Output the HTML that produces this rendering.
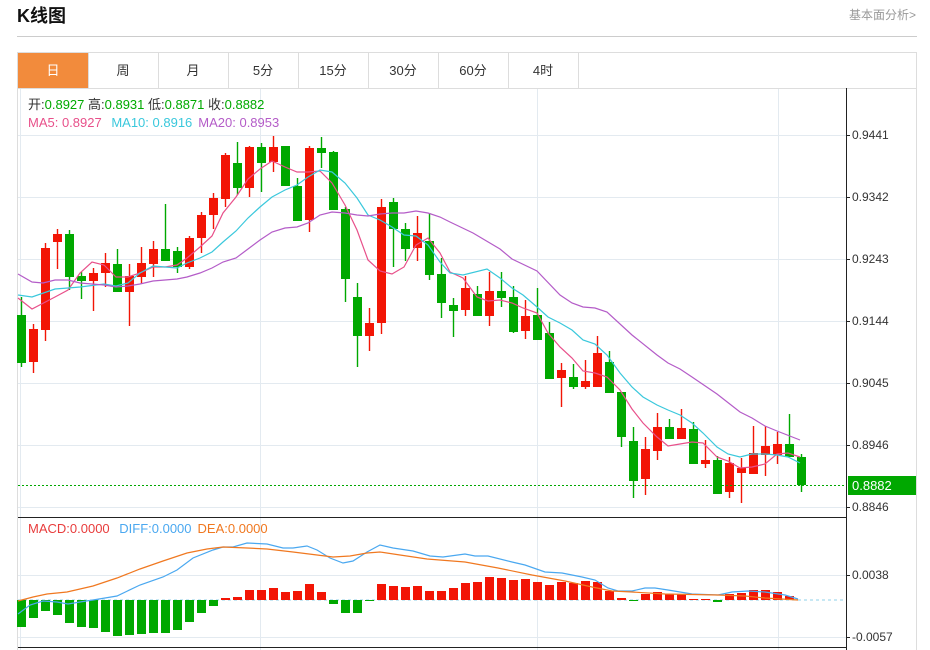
<!DOCTYPE html>
<html><head><meta charset="utf-8"><style>
body{margin:0;background:#fff;width:930px;height:650px;overflow:hidden;font-family:"Liberation Sans","Noto Sans CJK SC",sans-serif}
svg{position:absolute;left:0;top:0}
</style></head><body>
<svg id="s" width="930" height="650" xmlns="http://www.w3.org/2000/svg" font-family="Liberation Sans, Noto Sans CJK SC, sans-serif">
<text x="17" y="22" font-size="18" font-weight="bold" fill="#111">K线图</text>
<text x="916" y="19" font-size="12" fill="#999" text-anchor="end">基本面分析&gt;</text>
<line x1="17" y1="36.5" x2="917" y2="36.5" stroke="#ccc"/>
<rect x="17.5" y="52.5" width="899" height="600" fill="none" stroke="#ddd"/>
<line x1="18" y1="88.5" x2="917" y2="88.5" stroke="#ddd"/>
<rect x="18" y="53" width="70" height="35" fill="#f28b3c"/>
<g font-size="13" fill="#333" text-anchor="middle">
<text x="53" y="75" fill="#fff">日</text>
<text x="123" y="75">周</text><text x="193" y="75">月</text><text x="263" y="75">5分</text>
<text x="333" y="75">15分</text><text x="403" y="75">30分</text><text x="473" y="75">60分</text><text x="543" y="75">4时</text>
</g>
<g stroke="#ddd"><line x1="88.5" y1="53" x2="88.5" y2="88"/><line x1="158.5" y1="53" x2="158.5" y2="88"/><line x1="228.5" y1="53" x2="228.5" y2="88"/><line x1="298.5" y1="53" x2="298.5" y2="88"/><line x1="368.5" y1="53" x2="368.5" y2="88"/><line x1="438.5" y1="53" x2="438.5" y2="88"/><line x1="508.5" y1="53" x2="508.5" y2="88"/><line x1="578.5" y1="53" x2="578.5" y2="88"/></g>
<g id="grid" stroke="#e3eaf0"></g>
<g id="main"></g>
<line x1="18" y1="517.5" x2="846" y2="517.5" stroke="#222"/>
<line x1="18" y1="647.5" x2="846" y2="647.5" stroke="#222"/>
<line x1="846.5" y1="88" x2="846.5" y2="650" stroke="#222"/>
<g font-size="13">
<text x="28" y="109" fill="#333">开:<tspan fill="#0a0">0.8927</tspan>  高:<tspan fill="#0a0">0.8931</tspan>  低:<tspan fill="#0a0">0.8871</tspan>  收:<tspan fill="#0a0">0.8882</tspan></text>
<text x="28" y="127" fill="#e8508a">MA5: 0.8927 <tspan fill="#3ac8dc" dx="6">MA10: 0.8916</tspan><tspan fill="#b45cc8" dx="6">MA20: 0.8953</tspan></text>
<text x="28" y="533" fill="#e83c3c">MACD:0.0000 <tspan fill="#4aa8f0" dx="6">DIFF:0.0000</tspan><tspan fill="#f07820" dx="6">DEA:0.0000</tspan></text>
</g>
<g id="ax" font-size="12" fill="#333"></g>
<rect x="848" y="476" width="68" height="19" fill="#00a800"/>
<text x="852" y="490" font-size="13" fill="#fff">0.8882</text>
</svg>
<script>
var NS="http://www.w3.org/2000/svg";
function el(p,t,a){var e=document.createElementNS(NS,t);for(var k in a)e.setAttribute(k,a[k]);p.appendChild(e);return e;}
var g=document.getElementById('grid'),m=document.getElementById('main'),ax=document.getElementById('ax');
[[135,'0.9441'],[197,'0.9342'],[259,'0.9243'],[321,'0.9144'],[383,'0.9045'],[445,'0.8946'],[507,'0.8846']].forEach(function(a){
el(g,'line',{x1:18,y1:a[0]+.5,x2:846,y2:a[0]+.5});el(ax,'line',{x1:846,y1:a[0]+.5,x2:850,y2:a[0]+.5,stroke:'#222'});
var t=el(ax,'text',{x:852,y:a[0]+4});t.textContent=a[1];});
[[575,'0.0038'],[637,'-0.0057']].forEach(function(a){
el(g,'line',{x1:18,y1:a[0]+.5,x2:846,y2:a[0]+.5});el(ax,'line',{x1:846,y1:a[0]+.5,x2:850,y2:a[0]+.5,stroke:'#222'});
var t=el(ax,'text',{x:852,y:a[0]+4});t.textContent=a[1];});
[20,260,537,778].forEach(function(x){el(g,'line',{x1:x+.5,y1:89,x2:x+.5,y2:650});});
// candles: color, bodyTop, bodyBot, high, low
var C=[['g',315,363,297,367],['r',329,362,324,373],['r',248,330,243,341],['r',234,242,229,269],['g',234,277,230,290],['g',276,281,272,299],['r',273,281,268,311],['r',263,273,253,287],['g',264,292,249,292],['r',276,292,264,326],['r',263,277,247,284],['r',249,264,241,277],['g',249,261,204,261],['g',251,267,247,273],['r',238,267,236,269],['r',215,238,212,253],['r',198,215,193,229],['r',155,199,153,207],['g',163,188,142,195],['r',147,188,146,197],['g',147,163,143,192],['r',147,162,136,172],['g',146,186,146,186],['g',186,221,178,221],['r',148,220,146,232],['g',148,153,137,168],['g',152,210,151,210],['g',209,279,207,302],['g',297,336,283,367],['r',323,336,308,351],['r',207,323,199,334],['g',202,229,198,267],['g',229,249,223,261],['r',233,248,216,261],['g',241,275,213,280],['g',274,303,258,318],['g',305,311,298,337],['r',288,310,276,316],['g',294,316,286,316],['r',291,316,272,326],['g',291,298,272,307],['g',297,332,286,333],['r',316,331,300,339],['g',315,340,288,340],['g',333,379,322,379],['r',370,378,363,407],['g',377,387,364,389],['r',381,387,360,389],['r',353,387,336,387],['g',362,393,351,393],['g',392,437,392,447],['g',441,481,427,498],['r',449,479,437,495],['r',427,451,413,460],['g',427,439,419,439],['r',428,439,409,439],['g',429,464,422,464],['r',460,464,440,468],['g',460,494,456,494],['r',463,492,457,498],['r',468,473,458,503],['r',453,474,426,474],['r',446,455,426,476],['r',444,455,432,464],['g',444,457,414,457],['g',457,485,454,492]];
var RED='#f21505',GR='#00a800';
C.forEach(function(c,i){var x=21.5+i*12,col=c[0]=='r'?RED:GR;
el(m,'line',{x1:x,y1:c[3],x2:x,y2:c[4],stroke:col,'stroke-width':1.4});
el(m,'rect',{x:x-4.5,y:c[1],width:9,height:Math.max(1.5,c[2]-c[1]),fill:col});});
function pl(s,col){el(m,'polyline',{points:s,fill:'none',stroke:col,'stroke-width':1.2});}
pl("18,298 32,309 55,297 68,290 80,273 92,262 104,265 116,277 128,277 140,273 153,267 165,267 177,265 187,258 200,247 212,236 223,213 236,197 248,179 260,169 272,161 285,167 297,172 308,172 320,171 332,183 345,205 357,230 368,260 380,271 392,274 404,267 416,245 428,238 440,253 450,272 463,278 477,297 488,301 500,300 512,303 523,308 537,313 548,333 560,347 572,358 583,371 595,373 607,377 620,390 632,409 643,423 657,437 668,446 680,444 692,442 703,443 717,457 728,461 740,468 752,467 765,464 777,454 788,453 800,457",'#e8508a');
pl("18,295 32,297 55,289 68,288 80,287 104,284 116,286 128,283 140,273 153,266 165,267 177,268 187,263 200,258 212,252 223,242 236,231 248,218 260,207 272,197 285,190 297,185 308,177 320,170 332,172 345,183 357,198 368,215 380,220 392,227 404,235 416,236 428,245 440,262 450,273 463,275 487,269 500,278 512,288 523,295 537,307 548,317 560,323 572,330 583,340 595,344 607,355 620,373 632,387 643,397 657,405 668,410 680,415 692,423 703,433 717,447 728,454 740,457 752,454 765,454 777,455 788,457 800,463",'#3ac8dc');
pl("18,274 32,282 43,283 55,280 68,280 80,283 92,284 104,285 116,287 128,286 140,284 153,281 165,280 177,279 187,277 200,273 212,268 223,262 236,258 248,249 260,240 272,232 285,228 297,227 308,223 320,215 332,212 345,213 357,215 368,216 380,214 392,213 404,213 416,211 428,213 440,217 450,222 473,233 500,249 512,259 537,271 560,295 572,303 583,307 595,308 607,312 632,335 657,355 668,363 680,369 692,377 717,394 740,412 752,418 765,426 777,431 800,440",'#b45cc8');
el(m,'line',{x1:18,y1:485.5,x2:846,y2:485.5,stroke:'#00a800','stroke-dasharray':'2,2'});
// MACD
var H=[627,618,611,615,623,627,628,632,636,635,634,633,633,630,622,613,606,598,597,590,590,588,592,591,584,592,604,613,613,601,584,586,587,586,591,591,588,583,582,577,578,580,579,582,585,582,583,581,582,591,598,601,594,592,594,594,599,599,602,594,593,590,590,592,596];
el(m,'line',{x1:18,y1:600,x2:846,y2:600,stroke:'#8fd0e8','stroke-dasharray':'3,3'});
H.forEach(function(v,i){var x=21.5+i*12,up=v<600;
el(m,'rect',{x:x-4.5,y:up?v:600,width:9,height:Math.max(1,Math.abs(v-600)),fill:up?RED:GR});});
pl("18,614 30,605 43,601 57,602 68,604 80,602 93,600 117,596 140,585 163,577 177,570 193,558 213,550 223,547 233,547 247,543 267,544 283,548 293,548 307,546 317,550 330,558 343,563 353,561 367,552 380,545 393,548 413,551 430,556 443,557 465,554 475,556 488,556 512,562 525,565 545,572 562,573 582,577 595,580 608,588 618,591 632,591 645,588 655,588 668,590 692,594 718,595 732,592 748,591 765,592 785,595 798,599",'#4aa8f0');
pl("18,601 33,597 47,594 67,592 93,586 117,578 140,569 163,561 187,553 207,549 223,547 247,548 267,549 293,552 317,555 333,557 350,556 367,553 380,552 400,555 427,559 465,562 498,568 532,575 565,581 592,587 612,591 632,592 665,594 718,595 745,596 765,598 798,600",'#f07820');
</script>
</body></html>
